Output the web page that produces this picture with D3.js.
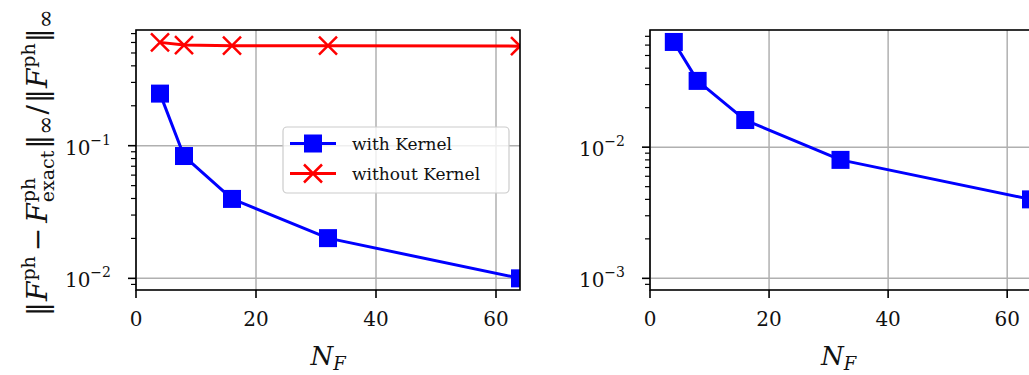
<!DOCTYPE html>
<html>
<head>
<meta charset="utf-8">
<script src="https://cdn.jsdelivr.net/npm/d3@7"></script>
<style>
html,body{margin:0;padding:0;background:#fff;}
svg{display:block;}
text{font-family:"DejaVu Serif",serif;fill:#111;}
</style>
</head>
<body>
<svg id="chart" width="1029" height="375"></svg>
<script>
// ---- data ----
const nF = [4, 8, 16, 32, 64];
const errWithKernel = [0.247, 0.0836, 0.0397, 0.0201, 0.0100];
const errWithoutKernel = [0.601, 0.574, 0.567, 0.567, 0.563];
const errRightPanel = [0.0634, 0.032, 0.0161, 0.0080, 0.0040];
const xTicks = [0, 20, 40, 60];
const leftYTicks = [1e-2, 1e-1];
const leftYTickExp = ["−2", "−1"];
const rightYTicks = [1e-3, 1e-2];
const rightYTickExp = ["−3", "−2"];
const legendLabels = ["with Kernel", "without Kernel"];

const svg = d3.select("#chart");
const TOP = 30, BOTTOM = 290;
const BLUE = "#0000ff", RED = "#ff0000", GRID = "#b0b0b0";

const panels = [
  {id:"L", x0:136, x1:520, yDom:[0.00817, 0.745], yTicks:leftYTicks, yExp:leftYTickExp,
   series:[{vals:errWithKernel, color:BLUE, marker:"square"},
           {vals:errWithoutKernel, color:RED, marker:"x"}]},
  {id:"R", x0:650, x1:1031, yDom:[0.000815, 0.0782], yTicks:rightYTicks, yExp:rightYTickExp,
   series:[{vals:errRightPanel, color:BLUE, marker:"square"}]}
];

const defs = svg.append("defs");

function minorTicks(dom){
  const out=[];
  const lo=Math.floor(Math.log10(dom[0])), hi=Math.ceil(Math.log10(dom[1]));
  for(let e=lo;e<=hi;e++){
    for(let m=2;m<=9;m++){
      const v=m*Math.pow(10,e);
      if(v>=dom[0]&&v<=dom[1]) out.push(v);
    }
  }
  return out;
}

panels.forEach(p=>{
  const x = d3.scaleLinear().domain([0,64]).range([p.x0,p.x1]);
  const y = d3.scaleLog().domain(p.yDom).range([BOTTOM,TOP]);
  const g = svg.append("g");

  defs.append("clipPath").attr("id","clip"+p.id)
    .append("rect").attr("x",p.x0).attr("y",TOP).attr("width",p.x1-p.x0).attr("height",BOTTOM-TOP);

  // grid
  g.selectAll(".gx").data(xTicks).join("line")
    .attr("x1",d=>x(d)).attr("x2",d=>x(d)).attr("y1",TOP).attr("y2",BOTTOM)
    .attr("stroke",GRID).attr("stroke-width",1.5);
  g.selectAll(".gy").data(p.yTicks).join("line")
    .attr("x1",p.x0).attr("x2",p.x1).attr("y1",d=>y(d)).attr("y2",d=>y(d))
    .attr("stroke",GRID).attr("stroke-width",1.5);

  // series
  const pg = g.append("g").attr("clip-path","url(#clip"+p.id+")");
  const line = d3.line().x((d,i)=>x(nF[i])).y(d=>y(d));
  p.series.forEach(s=>{
    pg.append("path").datum(s.vals).attr("d",line)
      .attr("fill","none").attr("stroke",s.color).attr("stroke-width",3).attr("stroke-linejoin","round");
    s.vals.forEach((v,i)=>{
      const cx=x(nF[i]), cy=y(v);
      if(s.marker==="square"){
        pg.append("rect").attr("x",cx-9).attr("y",cy-9).attr("width",18).attr("height",18).attr("fill",s.color);
      } else {
        pg.append("path").attr("d",`M${cx-9},${cy-9}L${cx+9},${cy+9}M${cx-9},${cy+9}L${cx+9},${cy-9}`)
          .attr("stroke",s.color).attr("stroke-width",2.5).attr("fill","none");
      }
    });
  });

  // spines
  g.append("rect").attr("x",p.x0).attr("y",TOP).attr("width",p.x1-p.x0).attr("height",BOTTOM-TOP)
    .attr("fill","none").attr("stroke","#000").attr("stroke-width",1.6);

  // x ticks
  g.selectAll(".xt").data(xTicks).join("line")
    .attr("x1",d=>x(d)).attr("x2",d=>x(d)).attr("y1",BOTTOM).attr("y2",BOTTOM+8)
    .attr("stroke","#000").attr("stroke-width",1.6);
  g.selectAll(".xl").data(xTicks).join("text")
    .attr("x",d=>x(d)).attr("y",326).attr("text-anchor","middle")
    .style("font-size","20px").text(d=>d);

  // y ticks
  g.selectAll(".yt").data(p.yTicks).join("line")
    .attr("x1",p.x0-8).attr("x2",p.x0).attr("y1",d=>y(d)).attr("y2",d=>y(d))
    .attr("stroke","#000").attr("stroke-width",1.6);
  g.selectAll(".ymt").data(minorTicks(p.yDom)).join("line")
    .attr("x1",p.x0-5).attr("x2",p.x0).attr("y1",d=>y(d)).attr("y2",d=>y(d))
    .attr("stroke","#000").attr("stroke-width",1.2);
  const yl = g.selectAll(".yl").data(p.yTicks).join("text")
    .attr("x",p.x0-25).attr("y",d=>y(d)+9).attr("text-anchor","end")
    .style("font-size","20px");
  yl.append("tspan").text("10");
  yl.append("tspan").attr("dy",-10).style("font-size","14px").text((d,i)=>p.yExp[i]);

  // x label
  const xl = g.append("text").attr("x",(p.x0+p.x1)/2 - (p.id==="R"? 2:0)).attr("y",365)
    .attr("text-anchor","middle").style("font-size","26px");
  xl.append("tspan").style("font-style","italic").text("N");
  xl.append("tspan").attr("dy",5).style("font-size","18px").style("font-style","italic").text("F");
});

// ---- legend (left panel) ----
{
  const lg = svg.append("g");
  lg.append("rect").attr("x",283).attr("y",127).attr("width",226).attr("height",66).attr("rx",4)
    .attr("fill","#fff").attr("fill-opacity",0.8).attr("stroke","#cccccc").attr("stroke-width",1.2);
  const rows=[{c:BLUE,m:"square",y:143.5},{c:RED,m:"x",y:173.5}];
  rows.forEach((r,i)=>{
    lg.append("line").attr("x1",290).attr("x2",336).attr("y1",r.y).attr("y2",r.y)
      .attr("stroke",r.c).attr("stroke-width",3);
    if(r.m==="square") lg.append("rect").attr("x",304).attr("y",r.y-9).attr("width",18).attr("height",18).attr("fill",r.c);
    else lg.append("path").attr("d",`M304,${r.y-9}L322,${r.y+9}M304,${r.y+9}L322,${r.y-9}`)
      .attr("stroke",r.c).attr("stroke-width",2.5);
    lg.append("text").attr("x",352).attr("y",r.y+6).style("font-size","17px").text(legendLabels[i]);
  });
}

// ---- y label (rotated math) ----
{
  const g = svg.append("g");
  const inner = g.append("g");
  const base = 28, small = 19, inf = 23;
  let cx = 0;
  function piece(t, opt={}){
    const el = inner.append("text").attr("x",cx).attr("y",opt.dy||0)
      .style("font-size",(opt.size||base)+"px").style("font-style",opt.italic?"italic":"normal").text(t);
    const w = el.node().getComputedTextLength();
    if(!opt.noAdvance) cx += w + (opt.pad||0);
    return w;
  }
  piece("‖",{pad:1});
  piece("F",{italic:true,pad:1});
  piece("ph",{size:small,dy:-12,pad:5});
  piece("−",{pad:5});
  piece("F",{italic:true,pad:1});
  const w1 = piece("ph",{size:small,dy:-12,noAdvance:true});
  const w2 = piece("exact",{size:small,dy:7,noAdvance:true});
  cx += Math.max(w1,w2)+2;
  piece("‖");
  piece("∞",{size:inf,dy:6,pad:1});
  piece("/",{pad:2});
  piece("‖",{pad:1});
  piece("F",{italic:true,pad:1});
  piece("ph",{size:small,dy:-12,pad:1});
  piece("‖");
  piece("∞",{size:inf,dy:6});
  g.attr("transform",`translate(47,316) rotate(-90)`);
}
</script>
</body>
</html>
